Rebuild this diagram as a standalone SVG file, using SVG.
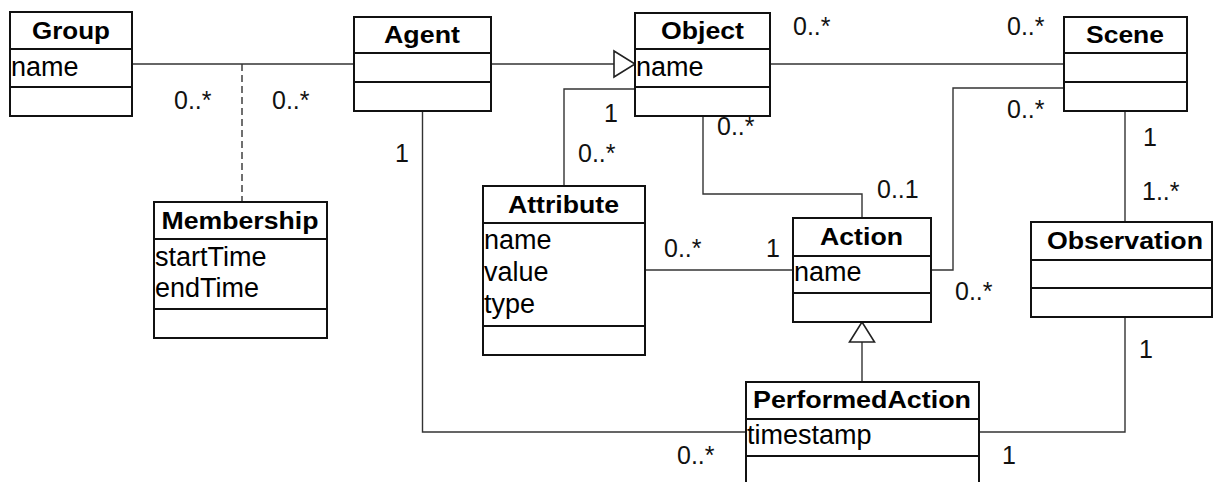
<svg xmlns="http://www.w3.org/2000/svg" width="1216" height="482" viewBox="0 0 1216 482">
<defs>
<style>
.box{fill:#fff;stroke:#111;stroke-width:2}
.div{stroke:#111;stroke-width:2}
.conn{fill:none;stroke:#333;stroke-width:1.4}
.dash{fill:none;stroke:#333;stroke-width:1.4;stroke-dasharray:7 4}
.tri{fill:#fff;stroke:#222;stroke-width:1.6}
.title{font-family:"Liberation Sans",Arial,sans-serif;font-weight:bold;font-size:24px;fill:#000}
.attr{font-family:"Liberation Sans",Arial,sans-serif;font-size:27px;fill:#000}
.lbl{font-family:"Liberation Sans",Arial,sans-serif;font-size:25px;fill:#111}
</style>
</defs>
<rect width="1216" height="482" fill="#fff"/>
<g id="connectors">
<path class="conn" d="M132,64 H354"/>
<path class="dash" d="M242,64 V202"/>
<path class="conn" d="M491,64 H614"/>
<polygon class="tri" points="614,51 635,64 614,77"/>
<path class="conn" d="M770,64 H1064"/>
<path class="conn" d="M635,89 H564 V186"/>
<path class="conn" d="M703,116 V194 H862 V218"/>
<path class="conn" d="M1064,88 H953 V270 H931"/>
<path class="conn" d="M1125,111 V222"/>
<path class="conn" d="M645,270 H793"/>
<path class="conn" d="M862,382 V342"/>
<polygon class="tri" points="849.5,342 862,322 874.5,342"/>
<path class="conn" d="M422.5,111 V432 H746"/>
<path class="conn" d="M1125,317 V432 H979"/>
<text class="lbl" x="174" y="109">0..*</text>
<text class="lbl" x="272" y="109">0..*</text>
<text class="lbl" x="395" y="162">1</text>
<text class="lbl" x="604" y="122">1</text>
<text class="lbl" x="578" y="162">0..*</text>
<text class="lbl" x="717" y="135">0..*</text>
<text class="lbl" x="793" y="35">0..*</text>
<text class="lbl" x="1007" y="35">0..*</text>
<text class="lbl" x="1007" y="118">0..*</text>
<text class="lbl" x="1143" y="146">1</text>
<text class="lbl" x="1142" y="200">1..*</text>
<text class="lbl" x="877" y="198">0..1</text>
<text class="lbl" x="664" y="257">0..*</text>
<text class="lbl" x="766" y="257">1</text>
<text class="lbl" x="955" y="300">0..*</text>
<text class="lbl" x="1139" y="358">1</text>
<text class="lbl" x="677" y="464">0..*</text>
<text class="lbl" x="1002" y="464">1</text>
</g>
<g id="Group">
<rect class="box" x="10" y="12" width="122" height="104"/>
<line class="div" x1="10" y1="49" x2="132" y2="49"/>
<line class="div" x1="10" y1="87" x2="132" y2="87"/>
<text class="title" x="32" y="39" textLength="78" lengthAdjust="spacingAndGlyphs">Group</text>
<text class="attr" x="11" y="76">name</text>
</g>
<g id="Agent">
<rect class="box" x="354" y="17" width="137" height="94"/>
<line class="div" x1="354" y1="53" x2="491" y2="53"/>
<line class="div" x1="354" y1="82" x2="491" y2="82"/>
<text class="title" x="384" y="43" textLength="76" lengthAdjust="spacingAndGlyphs">Agent</text>
</g>
<g id="Object">
<rect class="box" x="635" y="13" width="135" height="103"/>
<line class="div" x1="635" y1="49" x2="770" y2="49"/>
<line class="div" x1="635" y1="87" x2="770" y2="87"/>
<text class="title" x="661" y="39" textLength="83" lengthAdjust="spacingAndGlyphs">Object</text>
<text class="attr" x="636" y="76">name</text>
</g>
<g id="Scene">
<rect class="box" x="1064" y="17" width="123" height="94"/>
<line class="div" x1="1064" y1="53" x2="1187" y2="53"/>
<line class="div" x1="1064" y1="82" x2="1187" y2="82"/>
<text class="title" x="1086" y="43" textLength="78" lengthAdjust="spacingAndGlyphs">Scene</text>
</g>
<g id="Membership">
<rect class="box" x="154" y="202" width="173" height="136"/>
<line class="div" x1="154" y1="239" x2="327" y2="239"/>
<line class="div" x1="154" y1="309" x2="327" y2="309"/>
<text class="title" x="161.5" y="229" textLength="157" lengthAdjust="spacingAndGlyphs">Membership</text>
<text class="attr" x="155" y="266">startTime</text>
<text class="attr" x="155" y="297">endTime</text>
</g>
<g id="Attribute">
<rect class="box" x="483" y="186" width="162" height="169"/>
<line class="div" x1="483" y1="223" x2="645" y2="223"/>
<line class="div" x1="483" y1="326" x2="645" y2="326"/>
<text class="title" x="508" y="213" textLength="111" lengthAdjust="spacingAndGlyphs">Attribute</text>
<text class="attr" x="484" y="249">name</text>
<text class="attr" x="484" y="281">value</text>
<text class="attr" x="484" y="313">type</text>
</g>
<g id="Action">
<rect class="box" x="793" y="218" width="138" height="104"/>
<line class="div" x1="793" y1="256" x2="931" y2="256"/>
<line class="div" x1="793" y1="293" x2="931" y2="293"/>
<text class="title" x="820" y="245" textLength="83" lengthAdjust="spacingAndGlyphs">Action</text>
<text class="attr" x="794" y="281">name</text>
</g>
<g id="Observation">
<rect class="box" x="1031" y="222" width="181" height="95"/>
<line class="div" x1="1031" y1="260" x2="1212" y2="260"/>
<line class="div" x1="1031" y1="288" x2="1212" y2="288"/>
<text class="title" x="1047" y="249" textLength="156" lengthAdjust="spacingAndGlyphs">Observation</text>
</g>
<g id="PerformedAction">
<rect class="box" x="746" y="382" width="233" height="110"/>
<line class="div" x1="746" y1="419" x2="979" y2="419"/>
<line class="div" x1="746" y1="456" x2="979" y2="456"/>
<text class="title" x="753" y="408" textLength="218" lengthAdjust="spacingAndGlyphs">PerformedAction</text>
<text class="attr" x="747" y="444">timestamp</text>
</g>
</svg>
